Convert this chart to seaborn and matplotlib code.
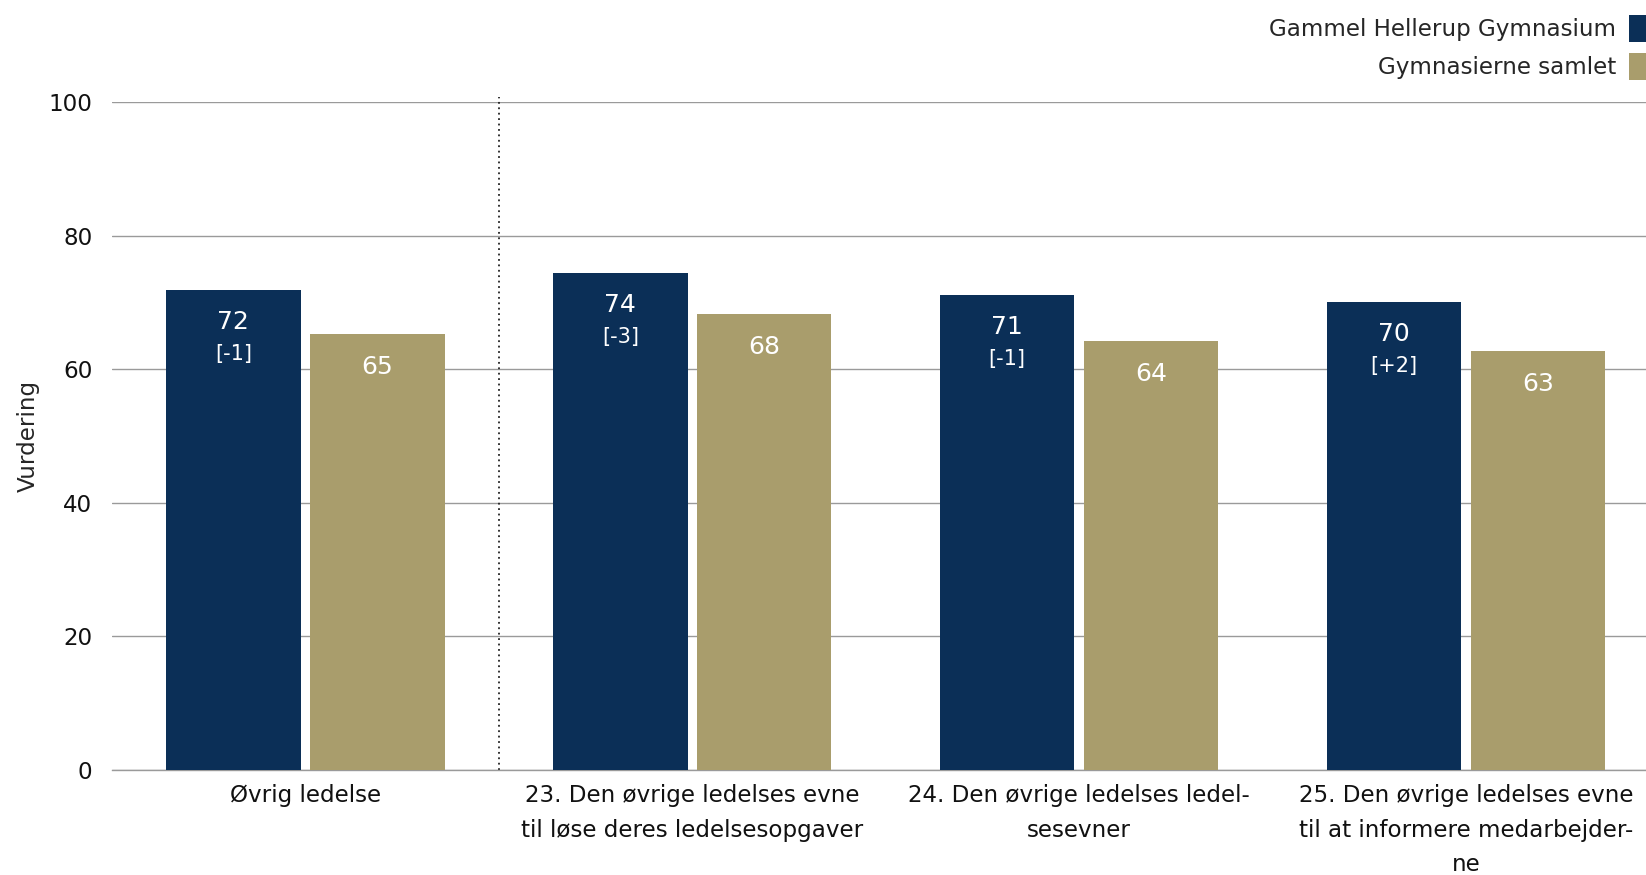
import pandas as pd
import matplotlib.pyplot as plt
import seaborn as sns
from matplotlib.patches import Patch

# data
categories = [
    'Øvrig ledelse',
    '23. Den øvrige ledelses evne\ntil løse deres ledelsesopgaver',
    '24. Den øvrige ledelses ledel-\nsesevner',
    '25. Den øvrige ledelses evne\ntil at informere medarbejder-\nne',
]
series_names = ['Gammel Hellerup Gymnasium', 'Gymnasierne samlet']
school_values = [71.9, 74.4, 71.1, 70.1]
all_values = [65.3, 68.3, 64.3, 62.8]
school_change = ['[-1]', '[-3]', '[-1]', '[+2]']
y_ticks = [0, 20, 40, 60, 80, 100]

colors = ['#0b2f57', '#a99d6c']
fs = 16.6

sns.set_theme(style='white')
plt.rcParams['font.family'] = ['DejaVu Sans']
plt.rcParams['font.size'] = fs

df = pd.DataFrame({
    'kategori': categories * 2,
    'serie': [series_names[0]] * 4 + [series_names[1]] * 4,
    'vaerdi': school_values + all_values,
})

fig = plt.figure(figsize=(16.46, 8.75), dpi=100)
ax = fig.add_axes([0.068, 0.12, 0.932, 0.763])

sns.barplot(data=df, x='kategori', y='vaerdi', hue='serie', order=categories,
            hue_order=series_names, palette=colors, width=0.744, gap=0.066,
            saturation=1, linewidth=0, ax=ax, legend=False, errorbar=None, zorder=3)

ax.set_ylim(0, 100)
ax.set_xlim(-0.5, 3.465)
ax.set_yticks(y_ticks)
ax.yaxis.grid(True, color='#9a9a9a', linewidth=1, zorder=0)
ax.set_axisbelow(True)
for side in ['top', 'right', 'left']:
    ax.spines[side].set_visible(False)
ax.spines['bottom'].set_color('#9a9a9a')
ax.spines['bottom'].set_linewidth(1)
ax.tick_params(axis='x', length=0, pad=10, labelsize=fs, colors='#111111')
ax.tick_params(axis='y', length=0, pad=14, labelsize=fs, colors='#111111')
ax.set_xlabel('')
ax.set_ylabel('Vurdering', fontsize=fs)
ax.yaxis.set_label_coords(-0.047, 0.5)
for lbl in ax.get_xticklabels():
    lbl.set_linespacing(1.65)

# divider between the overall group and the single questions
ax.axvline(0.5, ymin=0, ymax=1.008, color='#222222', linestyle=(0, (1, 2)),
           linewidth=1.3, clip_on=False, zorder=2)

# value labels inside the bars
school_bars = ax.containers[0]
all_bars = ax.containers[1]
for bar, v, ch in zip(school_bars, school_values, school_change):
    x = bar.get_x() + bar.get_width() / 2
    ax.annotate(f'{v:.0f}', (x, bar.get_height()), xytext=(0, -23),
                textcoords='offset points', ha='center', va='center',
                color='white', fontsize=18, zorder=4)
    ax.annotate(ch, (x, bar.get_height()), xytext=(0, -46),
                textcoords='offset points', ha='center', va='center',
                color='white', fontsize=15, zorder=4)
for bar, v in zip(all_bars, all_values):
    x = bar.get_x() + bar.get_width() / 2
    ax.annotate(f'{v:.0f}', (x, bar.get_height()), xytext=(0, -24),
                textcoords='offset points', ha='center', va='center',
                color='white', fontsize=18, zorder=4)

handles = [Patch(facecolor=c, linewidth=0) for c in colors]
fig.legend(handles, series_names, loc='upper right', bbox_to_anchor=(1.0, 0.983),
           frameon=False, markerfirst=False, fontsize=fs, handlelength=0.75,
           handleheight=1.45, handletextpad=0.55, labelspacing=0.45,
           borderpad=0, borderaxespad=0)

fig.savefig('out.png', dpi=100)
